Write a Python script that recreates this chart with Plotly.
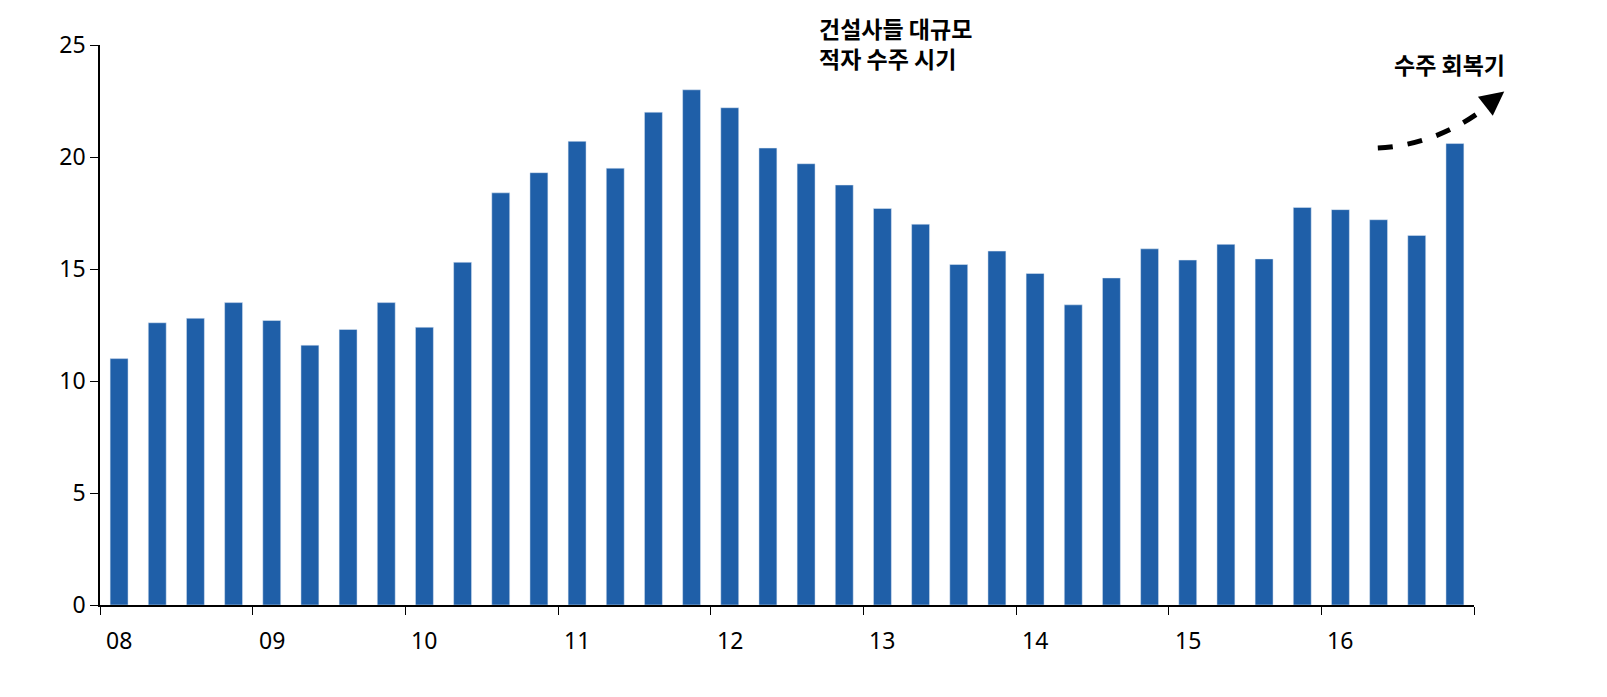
import plotly.graph_objects as go

years = ["08", "09", "10", "11", "12", "13", "14", "15", "16"]
values = [11.0, 12.6, 12.8, 13.5, 12.7, 11.6, 12.3, 13.5, 12.4, 15.3,
          18.4, 19.3, 20.7, 19.5, 22.0, 23.0, 22.2, 20.4, 19.7, 18.75,
          17.7, 17.0, 15.2, 15.8, 14.8, 13.4, 14.6, 15.9, 15.4, 16.1,
          15.45, 17.75, 17.65, 17.2, 16.5, 20.6]
x = list(range(len(values)))

fig = go.Figure(go.Bar(x=x, y=values, marker_color="#1f5fa8", width=0.47))

# year labels under first quarter of each year
annos = [dict(x=4 * i, y=-0.03, xref="x", yref="paper", text=y, showarrow=False,
              yanchor="top", font=dict(size=23)) for i, y in enumerate(years)]
annos += [
    dict(x=0.522, y=1.065, xref="paper", yref="paper", xanchor="left", yanchor="top",
         align="left", showarrow=False,
         text="<b>건설사들 대규모<br>적자 수주 시기</b>",
         font=dict(size=23, family="Noto Sans CJK KR")),
    dict(x=0.94, y=1.0, xref="paper", yref="paper", xanchor="left", yanchor="top",
         showarrow=False, text="<b>수주 회복기</b>",
         font=dict(size=23, family="Noto Sans CJK KR")),
    dict(x=1.022, y=0.917, xref="paper", yref="paper", text="", showarrow=True,
         ax=-14, ay=11, arrowhead=2, arrowsize=1.2, arrowwidth=4, arrowcolor="black"),
]

fig.update_layout(
    autosize=True, plot_bgcolor="white", paper_bgcolor="white",
    margin=dict(l=92, r=125, t=37, b=84), showlegend=False,
    font=dict(family="Noto Sans", size=23, color="black"),
    annotations=annos,
    shapes=[dict(type="path", xref="paper", yref="paper",
                 path="M 0.930 0.816 Q 0.975 0.822 1.012 0.895",
                 line=dict(color="black", width=5, dash="dash"))],
    xaxis=dict(range=[-0.5, 35.5], tickvals=[-0.5 + 4 * k for k in range(10)],
               ticktext=[""] * 10, ticks="outside", ticklen=8, tickcolor="black",
               showline=True, linecolor="black", linewidth=1.5, showgrid=False,
               zeroline=False, automargin=False),
    yaxis=dict(range=[0, 25], tickvals=[0, 5, 10, 15, 20, 25], ticks="outside",
               ticklen=8, tickcolor="black", showline=True, linecolor="black",
               linewidth=1.5, showgrid=False, zeroline=False, automargin=False),
)

fig.write_html("out.html", config=dict(responsive=True), default_width="100%",
               default_height="100%")
